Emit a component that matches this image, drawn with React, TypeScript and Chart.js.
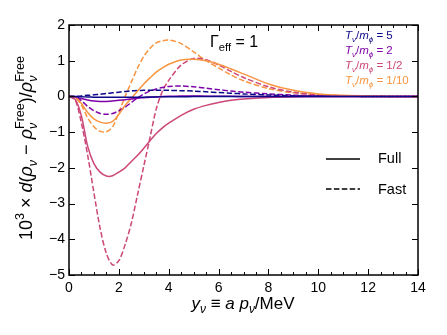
import React, { useEffect, useRef } from "react";
import { Chart, registerables } from "chart.js";

Chart.register(...registerables);

// ---------- data ----------
const yGrid = [0, 0.25, 0.5, 0.75, 1, 1.25, 1.5, 1.75, 2, 2.25, 2.5, 2.75, 3, 3.25, 3.5, 3.75, 4, 4.5, 5, 5.5, 6, 6.5, 7, 8, 9, 10, 11, 12, 13, 14];

// T/m = 5
const full5 = [0, -0.005, -0.01, -0.015, -0.02, -0.025, -0.025, -0.025, -0.025, -0.025, -0.02, -0.02, -0.02, -0.015, -0.015, -0.01, -0.01, -0.01, -0.005, -0.005, 0, 0, 0, 0, 0, 0, 0, 0, 0, 0];
const fast5 = [0, 0.005, 0.015, 0.03, 0.045, 0.06, 0.08, 0.1, 0.12, 0.14, 0.155, 0.165, 0.17, 0.173, 0.175, 0.174, 0.17, 0.16, 0.15, 0.13, 0.11, 0.09, 0.07, 0.04, 0.02, 0.01, 0.005, 0, 0, 0];
// T/m = 2
const full2 = [0, -0.01, -0.06, -0.1, -0.13, -0.14, -0.14, -0.13, -0.11, -0.09, -0.07, -0.05, -0.035, -0.02, -0.01, 0, 0.005, 0.01, 0.01, 0.008, 0.005, 0.003, 0, 0, 0, 0, 0, 0, 0, 0];
const fast2 = [0, -0.02, -0.12, -0.28, -0.4, -0.48, -0.5, -0.48, -0.4, -0.3, -0.17, -0.04, 0.07, 0.15, 0.21, 0.25, 0.28, 0.29, 0.27, 0.23, 0.19, 0.15, 0.12, 0.07, 0.035, 0.015, 0.005, 0, 0, 0];
// T/m = 1/2
const fullHalf = [0, -0.08, -0.55, -1.4, -1.88, -2.12, -2.23, -2.22, -2.12, -2.0, -1.82, -1.65, -1.45, -1.24, -1.04, -0.88, -0.75, -0.53, -0.36, -0.25, -0.17, -0.11, -0.07, -0.03, -0.01, 0, 0, 0, 0, 0];
const fastHalf = [0, -0.1, -0.75, -1.65, -2.7, -3.7, -4.4, -4.72, -4.6, -4.15, -3.55, -2.75, -1.95, -1.15, -0.35, 0.15, 0.45, 0.88, 1.06, 1.03, 0.88, 0.7, 0.53, 0.27, 0.12, 0.05, 0.02, 0.01, 0, 0];
// T/m = 1/10
const fullTenth = [0, -0.02, -0.2, -0.45, -0.63, -0.72, -0.75, -0.7, -0.5, -0.25, -0.05, 0.15, 0.35, 0.52, 0.68, 0.8, 0.9, 1.02, 1.04, 1.0, 0.9, 0.77, 0.63, 0.35, 0.17, 0.07, 0.03, 0.01, 0, 0];
const fastTenth = [0, -0.03, -0.25, -0.6, -0.85, -0.98, -0.99, -0.85, -0.45, 0.0, 0.4, 0.8, 1.12, 1.35, 1.5, 1.56, 1.58, 1.48, 1.25, 1.0, 0.8, 0.6, 0.44, 0.22, 0.1, 0.04, 0.015, 0.005, 0, 0];

const seriesLabels = ["5", "2", "1/2", "1/10"];
const seriesColors = ["#0d0887", "#7e03a8", "#cc4778", "#f89540"];
const fullSeries = [full5, full2, fullHalf, fullTenth];
const fastSeries = [fast5, fast2, fastHalf, fastTenth];

const xTicks = [0, 2, 4, 6, 8, 10, 12, 14];
const yTicks = [-5, -4, -3, -2, -1, 0, 1, 2];

const FONT = '"Liberation Sans", Arial, Helvetica, sans-serif';

type Run = { t: string; it?: boolean; sub?: string; sup?: string; subIt?: boolean };

function fnt(size: number, it?: boolean) {
  return `${it ? "italic " : ""}${Math.round(size * 10) / 10}px ${FONT}`;
}

function runsWidth(ctx: CanvasRenderingContext2D, runs: Run[], size: number) {
  let w = 0;
  for (const r of runs) {
    ctx.font = fnt(size, r.it);
    w += ctx.measureText(r.t).width;
    let ew = 0;
    if (r.sub) {
      ctx.font = fnt(size * 0.7, r.subIt);
      ew = Math.max(ew, ctx.measureText(r.sub).width);
    }
    if (r.sup) {
      ctx.font = fnt(size * 0.7);
      ew = Math.max(ew, ctx.measureText(r.sup).width);
    }
    w += ew;
  }
  return w;
}

function drawRuns(ctx: CanvasRenderingContext2D, runs: Run[], x: number, y: number, size: number, color: string) {
  ctx.fillStyle = color;
  ctx.textBaseline = "alphabetic";
  ctx.textAlign = "left";
  let cx = x;
  for (const r of runs) {
    ctx.font = fnt(size, r.it);
    ctx.fillText(r.t, cx, y);
    cx += ctx.measureText(r.t).width;
    let ew = 0;
    if (r.sub) {
      ctx.font = fnt(size * 0.7, r.subIt);
      ctx.fillText(r.sub, cx, y + size * 0.25);
      ew = Math.max(ew, ctx.measureText(r.sub).width);
    }
    if (r.sup) {
      ctx.font = fnt(size * 0.7);
      ctx.fillText(r.sup, cx, y - size * 0.42);
      ew = Math.max(ew, ctx.measureText(r.sup).width);
    }
    cx += ew;
  }
  return cx - x;
}

const decorPlugin = {
  id: "decor",
  afterDraw(chart: any) {
    const ctx: CanvasRenderingContext2D = chart.ctx;
    const { left, right, top, bottom } = chart.chartArea;
    const xs = chart.scales.x;
    const ys = chart.scales.y;
    ctx.save();
    // frame
    ctx.strokeStyle = "#000";
    ctx.lineWidth = 1.5;
    ctx.strokeRect(left, top, right - left, bottom - top);
    // ticks
    ctx.lineWidth = 1;
    ctx.beginPath();
    for (let v = 0; v <= 14.001; v += 0.5) {
      const px = Math.round(xs.getPixelForValue(v)) + 0.5;
      const len = Math.abs(v % 2) < 1e-6 ? 6 : 3;
      ctx.moveTo(px, bottom);
      ctx.lineTo(px, bottom - len);
      ctx.moveTo(px, top);
      ctx.lineTo(px, top + len);
    }
    for (const v of yTicks) {
      const py = Math.round(ys.getPixelForValue(v)) + 0.5;
      ctx.moveTo(left, py);
      ctx.lineTo(left + 6, py);
      ctx.moveTo(right, py);
      ctx.lineTo(right - 6, py);
    }
    ctx.stroke();

    // Gamma_eff label
    drawRuns(ctx, [{ t: "Γ", sub: "eff" }, { t: " = 1" }], 210, 47, 16, "#000");

    // series legend
    seriesLabels.forEach((lab, i) => {
      drawRuns(
        ctx,
        [
          { t: "T", it: true, sub: "ν", subIt: true },
          { t: "/" },
          { t: "m", it: true, sub: "ϕ", subIt: true },
          { t: " = " + lab },
        ],
        345,
        39 + i * 15,
        11.5,
        seriesColors[i]
      );
    });

    // Full / Fast legend
    ctx.strokeStyle = "#000";
    ctx.lineWidth = 1.5;
    ctx.setLineDash([]);
    ctx.beginPath();
    ctx.moveTo(326, 159);
    ctx.lineTo(360, 159);
    ctx.stroke();
    ctx.setLineDash([5.5, 2.4]);
    ctx.beginPath();
    ctx.moveTo(326, 189);
    ctx.lineTo(360, 189);
    ctx.stroke();
    ctx.setLineDash([]);
    ctx.fillStyle = "#000";
    ctx.font = fnt(14.5);
    ctx.textBaseline = "middle";
    ctx.textAlign = "left";
    ctx.fillText("Full", 378, 159);
    ctx.fillText("Fast", 378, 190);

    // x title
    const xRuns: Run[] = [
      { t: "y", it: true, sub: "ν", subIt: true },
      { t: " ≡ " },
      { t: "a", it: true },
      { t: " " },
      { t: "p", it: true, sub: "ν", subIt: true },
      { t: "/MeV" },
    ];
    const xw = runsWidth(ctx, xRuns, 17);
    drawRuns(ctx, xRuns, 243 - xw / 2, 309, 17, "#000");

    // y title
    const yRuns: Run[] = [
      { t: "10", sup: "3" },
      { t: " × " },
      { t: "d", it: true },
      { t: "(" },
      { t: "ρ", it: true, sub: "ν", subIt: true },
      { t: " − " },
      { t: "ρ", it: true, sub: "ν", subIt: true, sup: "Free" },
      { t: ")/" },
      { t: "ρ", it: true, sub: "ν", subIt: true, sup: "Free" },
    ];
    const yw = runsWidth(ctx, yRuns, 18);
    ctx.save();
    ctx.translate(32, 148);
    ctx.rotate(-Math.PI / 2);
    drawRuns(ctx, yRuns, -yw / 2, 0, 18, "#000");
    ctx.restore();

    ctx.restore();
  },
};

export default function App() {
  const ref = useRef<HTMLCanvasElement | null>(null);
  useEffect(() => {
    if (!ref.current) return;
    const datasets: any[] = [];
    fullSeries.forEach((s, i) => {
      datasets.push({
        label: "full " + seriesLabels[i],
        data: yGrid.map((x, k) => ({ x, y: s[k] })),
        borderColor: seriesColors[i],
        borderWidth: 1.5,
        pointRadius: 0,
        tension: 0.3,
        fill: false,
      });
    });
    fastSeries.forEach((s, i) => {
      datasets.push({
        label: "fast " + seriesLabels[i],
        data: yGrid.map((x, k) => ({ x, y: s[k] })),
        borderColor: seriesColors[i],
        borderWidth: 1.5,
        borderDash: [5.5, 2.4],
        pointRadius: 0,
        tension: 0.3,
        fill: false,
      });
    });
    const chart = new Chart(ref.current, {
      type: "line",
      data: { datasets },
      options: {
        animation: false,
        responsive: false,
        maintainAspectRatio: false,
        devicePixelRatio: 1,
        layout: { padding: { left: 0, right: 29, top: 25, bottom: 0 } },
        plugins: { legend: { display: false }, tooltip: { enabled: false } },
        scales: {
          x: {
            type: "linear",
            min: 0,
            max: 14,
            afterFit: (s: any) => {
              s.height = 60;
            },
            afterBuildTicks: (s: any) => {
              s.ticks = xTicks.map((v) => ({ value: v }));
            },
            grid: { display: false, drawTicks: false },
            border: { display: false },
            ticks: {
              font: { family: FONT, size: 14 },
              color: "#000",
              padding: 5,
              maxRotation: 0,
              autoSkip: false,
              callback: (v: any) => String(v),
            },
          },
          y: {
            type: "linear",
            min: -5,
            max: 2,
            afterFit: (s: any) => {
              s.width = 69;
            },
            afterBuildTicks: (s: any) => {
              s.ticks = yTicks.map((v) => ({ value: v }));
            },
            grid: { display: false, drawTicks: false },
            border: { display: false },
            ticks: {
              font: { family: FONT, size: 14 },
              color: "#000",
              padding: 4,
              autoSkip: false,
              callback: (v: any) => String(v).replace("-", "−"),
            },
          },
        },
      },
      plugins: [decorPlugin],
    });
    return () => chart.destroy();
  }, []);
  return (
    <div style={{ position: "fixed", left: 0, top: 0, width: 447, height: 335, background: "#fff" }}>
      <canvas ref={ref} width={447} height={335} style={{ width: 447, height: 335 }} />
    </div>
  );
}
